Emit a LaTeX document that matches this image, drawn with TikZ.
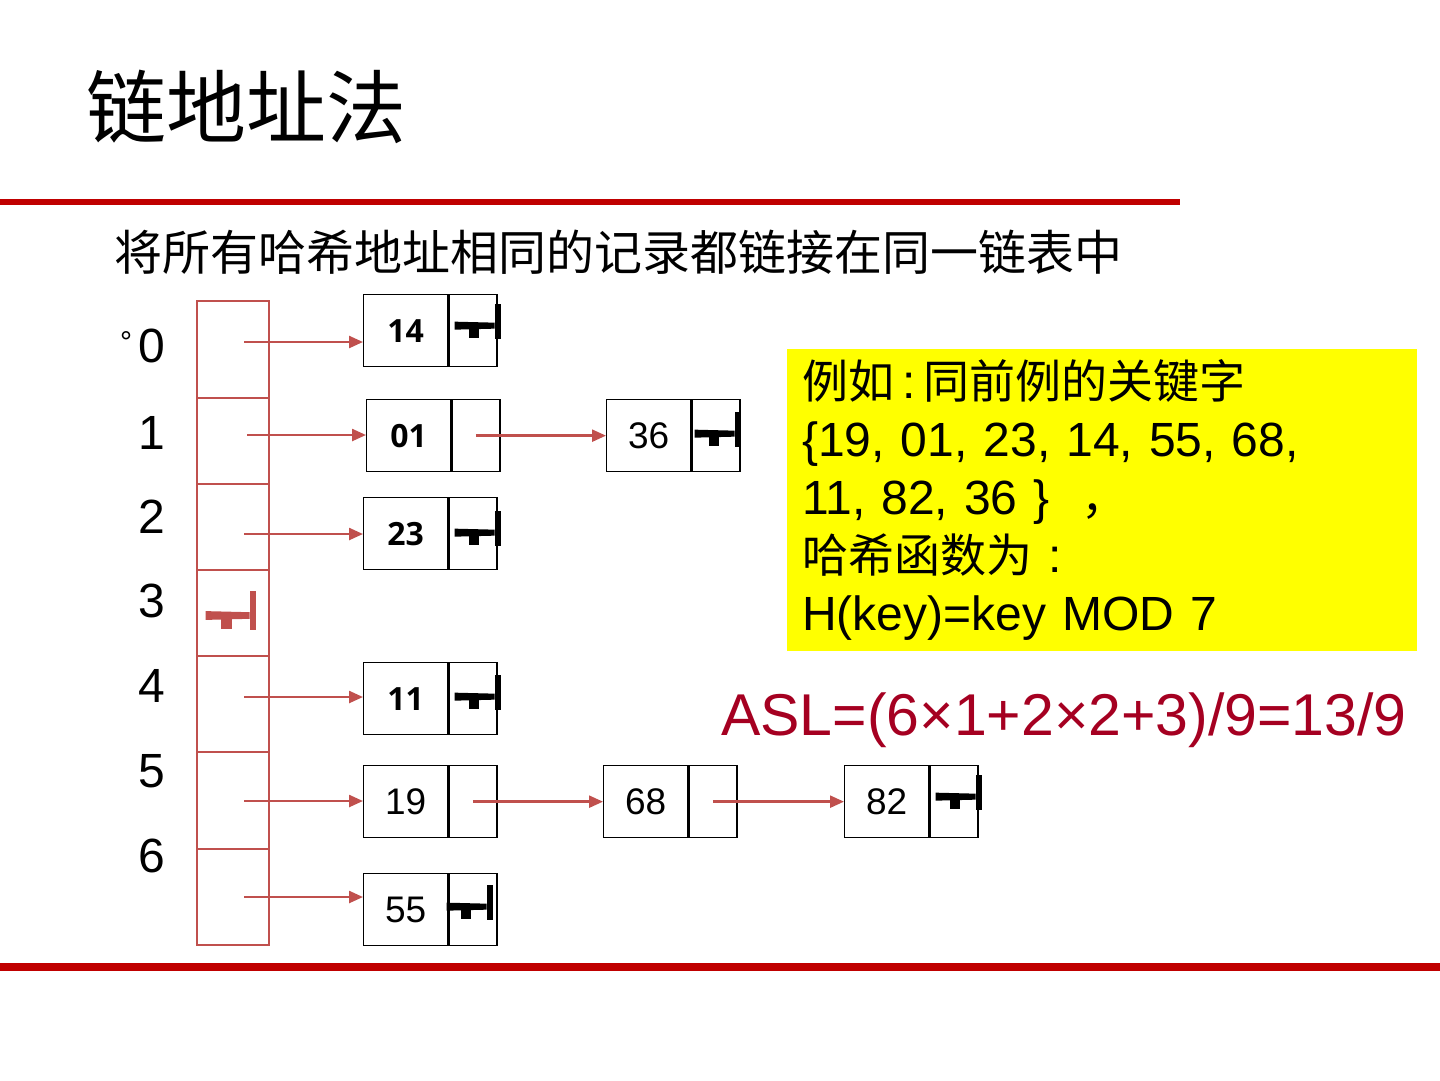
\documentclass[tikz,border=0pt]{standalone}
\usepackage{fontspec}
\setmainfont{Liberation Sans}
\newfontfamily\cjk{Noto Sans CJK SC}
\newfontfamily\boxfont{Open Sans}
\usetikzlibrary{arrows.meta}
\definecolor{tabred}{HTML}{C0504D}
\definecolor{barred}{HTML}{C00000}
\definecolor{aslred}{HTML}{A50021}
\definecolor{ylw}{HTML}{FFFF00}
\newcommand\zh[1]{{\cjk\fontsize{46}{58}\selectfont #1}}
\tikzset{
  nullmark/.pic={
    \fill (-43,1) -- (-3,2) -- (-3,8) -- (-43,9) -- cycle;
    \fill (-29,8) rectangle (-19,17);
    \fill (-3,-17) rectangle (3,18);
  }
}
\begin{document}
\begin{tikzpicture}[x=1pt,y=-1pt,
  cell/.style={draw=tabred, line width=2pt, minimum width=72pt, anchor=north west, inner sep=0pt},
  datapart/.style={draw=black, line width=1.3pt, minimum width=84pt, minimum height=72pt, anchor=north west, inner sep=0pt},
  ptrpart/.style={draw=black, line width=1.3pt, minimum width=48pt, minimum height=72pt, anchor=west, inner sep=0pt},
  boldnum/.style={font=\boxfont\bfseries\fontsize{32}{32}\selectfont},
  plainnum/.style={font=\fontsize{37}{37}\selectfont},
  link/.style={draw=tabred, line width=2.4pt, -{Triangle[length=14pt,width=12pt]}},
  idx/.style={font=\fontsize{48}{48}\selectfont, inner sep=0pt},
]
\useasboundingbox (0,0) rectangle (1440,1080);

% rules
\draw[barred, line width=6pt] (0,202) -- (1180,202);
\draw[barred, line width=8pt] (0,967) -- (1440,967);

% titles
\node[anchor=west, inner sep=0pt, font=\cjk\fontsize{80}{80}\selectfont] (title) at (86,107) {链地址法};
\node[anchor=west, inner sep=0pt, font=\cjk\fontsize{48}{48}\selectfont] (sub) at (114,252) {将所有哈希地址相同的记录都链接在同一链表中};

% hash table
\node[cell, minimum height=97pt] (c0) at (196,300) {};
\node[cell, minimum height=86pt] (c1) at (196,397) {};
\node[cell, minimum height=86pt] (c2) at (196,483) {};
\node[cell, minimum height=86pt] (c3) at (196,569) {};
\node[cell, minimum height=96pt] (c4) at (196,655) {};
\node[cell, minimum height=97pt] (c5) at (196,751) {};
\node[cell, minimum height=96pt] (c6) at (196,848) {};

% indices
\node[inner sep=0pt, font=\fontsize{30}{30}\selectfont] (deg) at (126,342) {°};
\node[idx] (i0) at (152,346) {0};
\node[idx] (i1) at (152,433) {1};
\node[idx] (i2) at (152,517) {2};
\node[idx] (i3) at (152,601) {3};
\node[idx] (i4) at (152,686) {4};
\node[idx] (i5) at (152,771) {5};
\node[idx] (i6) at (152,856) {6};

% list nodes
\node[datapart, boldnum] (d14) at (363,294) {14};
\node[ptrpart] (p14) at (d14.east) {};
\node[datapart, boldnum] (d01) at (366,399) {01};
\node[ptrpart] (p01) at (d01.east) {};
\node[datapart, plainnum] (d36) at (606,399) {36};
\node[ptrpart] (p36) at (d36.east) {};
\node[datapart, boldnum] (d23) at (363,497) {23};
\node[ptrpart] (p23) at (d23.east) {};
\node[datapart, boldnum] (d11) at (363,662) {11};
\node[ptrpart] (p11) at (d11.east) {};
\node[datapart, plainnum] (d19) at (363,765) {19};
\node[ptrpart] (p19) at (d19.east) {};
\node[datapart, plainnum] (d68) at (603,765) {68};
\node[ptrpart] (p68) at (d68.east) {};
\node[datapart, plainnum] (d82) at (844,765) {82};
\node[ptrpart] (p82) at (d82.east) {};
\node[datapart, plainnum] (d55) at (363,873) {55};
\node[ptrpart] (p55) at (d55.east) {};

% null marks
\pic[color=black] at ([yshift=10pt]p14.east) {nullmark};
\pic[color=black] at ([xshift=-3pt,yshift=7pt]p36.east) {nullmark};
\pic[color=black] at ([yshift=6pt]p23.east) {nullmark};
\pic[color=black] at ([yshift=7pt]p11.east) {nullmark};
\pic[color=black] at ([yshift=10pt]p82.east) {nullmark};
\pic[color=black] at ([xshift=-8pt,yshift=8pt]p55.east) {nullmark};
\pic[color=tabred, scale=1.1] at ([xshift=20pt,yshift=3pt]c3.center) {nullmark};

% arrow starts in the table
\coordinate (t0) at (244,342);
\coordinate (t1) at (247,435);
\coordinate (t2) at (244,534);
\coordinate (t4) at (244,697);
\coordinate (t5) at (244,801);
\coordinate (t6) at (244,897);

\draw[link] (t0) -- (t0 -| d14.west);
\draw[link] (t1) -- (t1 -| d01.west);
\draw[link] (t2) -- (t2 -| d23.west);
\draw[link] (t4) -- (t4 -| d11.west);
\draw[link] (t5) -- (t5 -| d19.west);
\draw[link] (t6) -- (t6 -| d55.west);
\draw[link] (p01.center) -- (d36.west);
\draw[link] (p19.center) -- (d68.west);
\draw[link] (p68.center) -- (d82.west);

% yellow note
\node[fill=ylw, anchor=north west, minimum width=630pt, minimum height=302pt,
      text width=600pt, inner xsep=15pt, inner ysep=0pt, align=left,
      font=\fontsize{48}{58}\selectfont] (note) at (787,349)
  {\zh{例如}\,:\,\zh{同前例的关键字}\\
   \{19, 01, 23, 14, 55, 68,\\
   11, 82, 36 \}\ \ \zh{，}\\
   \zh{哈希函数为}\ :\\
   H(key)=key MOD 7};

% ASL
\node[anchor=west, inner sep=0pt, text=aslred, font=\fontsize{59}{59}\selectfont] (asl) at (721,720) {ASL=(6×1+2×2+3)/9=13/9};
\end{tikzpicture}
\end{document}
